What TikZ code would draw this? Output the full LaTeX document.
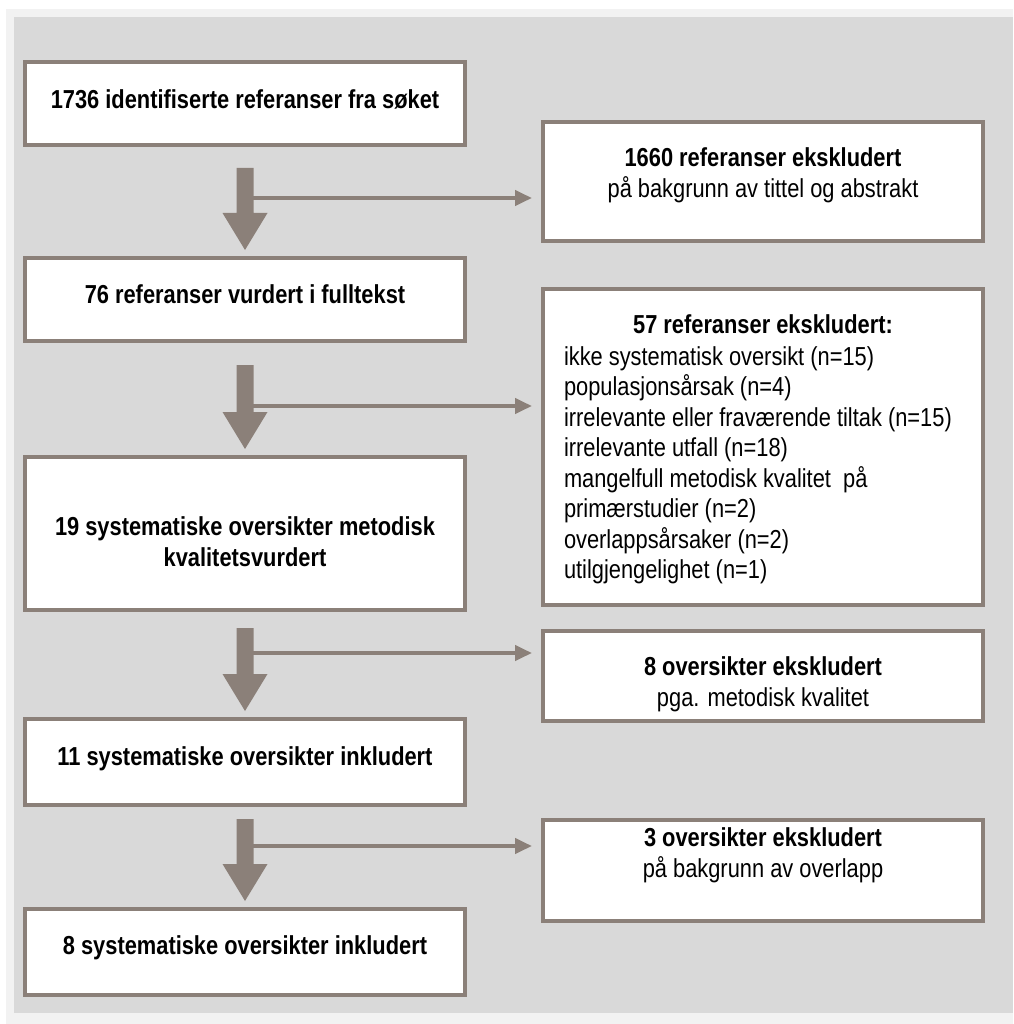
\documentclass[tikz,border=0pt]{standalone}
\usepackage{fontspec}
\setmainfont{Liberation Sans}[FakeStretch=0.84]
\usetikzlibrary{arrows.meta,calc}
\definecolor{brd}{RGB}{139,128,121}
\definecolor{bggray}{RGB}{217,217,217}
\definecolor{frame}{RGB}{242,242,242}
\tikzset{
  box/.style={draw=brd, line width=4pt, fill=white, outer sep=0pt, inner sep=0pt},
  txt/.style={inner sep=0pt, outer sep=0pt, anchor=base, font=\fontsize{26pt}{30.7pt}\selectfont},
  btxt/.style={txt, font=\fontsize{26pt}{30.7pt}\selectfont\bfseries},
  bigarr/.style={fill=brd},
  hline/.style={draw=brd, line width=4pt, -{Triangle[length=17pt,width=15pt]}, shorten >=11pt}
}
\begin{document}
\begin{tikzpicture}[x=1pt,y=-1pt]
\useasboundingbox (0,0) rectangle (1013,1024);
\fill[frame] (6,9) rectangle (1013,1024);
\fill[bggray] (14,17) rectangle (1013,1013);

% left boxes
\node[box, minimum width=440pt, minimum height=83pt] (b1) at (245,103.5) {};
\node[box, minimum width=440pt, minimum height=83pt] (b2) at (245,299.5) {};
\node[box, minimum width=440pt, minimum height=153pt] (b3) at (245,533.5) {};
\node[box, minimum width=440pt, minimum height=86pt] (b4) at (245,762) {};
\node[box, minimum width=440pt, minimum height=86pt] (b5) at (245,952) {};
% right boxes
\node[box, minimum width=440pt, minimum height=119pt] (r1) at (763,181.5) {};
\node[box, minimum width=440pt, minimum height=316pt] (r2) at (763,447) {};
\node[box, minimum width=440pt, minimum height=90pt] (r3) at (763,676) {};
\node[box, minimum width=440pt, minimum height=101pt] (r4) at (763,870.5) {};

% left texts
\node[btxt] (t1) at (245,109) {1736 identifiserte referanser fra søket};
\node[btxt] (t2) at (245,303) {76 referanser vurdert i fulltekst};
\node[btxt] (t3a) at (245,535) {19 systematiske oversikter metodisk};
\node[btxt] (t3b) at (245,566) {kvalitetsvurdert};
\node[btxt] (t4) at (245,765) {11 systematiske oversikter inkludert};
\node[btxt] (t5) at (245,954) {8 systematiske oversikter inkludert};

% right texts
\node[btxt] (s1a) at (763,167) {1660 referanser ekskludert};
\node[txt] (s1b) at (763,198) {på bakgrunn av tittel og abstrakt};
\node[btxt] (s2a) at (763,333) {57 referanser ekskludert:};
\foreach \t [count=\i from 0] in {ikke systematisk oversikt (n=15), populasjonsårsak (n=4), irrelevante eller fraværende tiltak (n=15), irrelevante utfall (n=18), mangelfull metodisk kvalitet\ \ på, primærstudier (n=2), overlappsårsaker (n=2), utilgjengelighet (n=1)}
  \node[txt, anchor=base west] (l\i) at (564,{365+30.5*\i}) {\t};
\node[btxt] (s3a) at (763,675) {8 oversikter ekskludert};
\node[txt] (s3b) at (763,706) {pga. metodisk kvalitet};
\node[btxt] (s4a) at (763,846) {3 oversikter ekskludert};
\node[txt] (s4b) at (763,877) {på bakgrunn av overlapp};

% junction coordinates on the big arrows
\coordinate (j1) at ($(b1.south)+(0,53)$);
\coordinate (j2) at ($(b2.south)+(0,65)$);
\coordinate (j3) at ($(b3.south)+(0,43)$);
\coordinate (j4) at ($(b4.south)+(0,41)$);

% horizontal connectors
\draw[hline] (j1) -- (j1 -| r1.west);
\draw[hline] (j2) -- (j2 -| r2.west);
\draw[hline] (j3) -- (j3 -| r3.west);
\draw[hline] (j4) -- (j4 -| r4.west);

% big downward arrows
\fill[bigarr] ($(b1.south)+(-8.5,23)$) -- ($(b1.south)+(8.5,23)$) -- ($(b2.north)+(8.5,-45)$) -- ($(b2.north)+(22.5,-45)$) -- ($(b2.north)+(0,-8)$) -- ($(b2.north)+(-22.5,-45)$) -- ($(b2.north)+(-8.5,-45)$) -- cycle;
\fill[bigarr] ($(b2.south)+(-8.5,24)$) -- ($(b2.south)+(8.5,24)$) -- ($(b3.north)+(8.5,-45)$) -- ($(b3.north)+(22.5,-45)$) -- ($(b3.north)+(0,-8)$) -- ($(b3.north)+(-22.5,-45)$) -- ($(b3.north)+(-8.5,-45)$) -- cycle;
\fill[bigarr] ($(b3.south)+(-8.5,18)$) -- ($(b3.south)+(8.5,18)$) -- ($(b4.north)+(8.5,-45)$) -- ($(b4.north)+(22.5,-45)$) -- ($(b4.north)+(0,-8)$) -- ($(b4.north)+(-22.5,-45)$) -- ($(b4.north)+(-8.5,-45)$) -- cycle;
\fill[bigarr] ($(b4.south)+(-8.5,14)$) -- ($(b4.south)+(8.5,14)$) -- ($(b5.north)+(8.5,-45)$) -- ($(b5.north)+(22.5,-45)$) -- ($(b5.north)+(0,-8)$) -- ($(b5.north)+(-22.5,-45)$) -- ($(b5.north)+(-8.5,-45)$) -- cycle;
\end{tikzpicture}
\end{document}
